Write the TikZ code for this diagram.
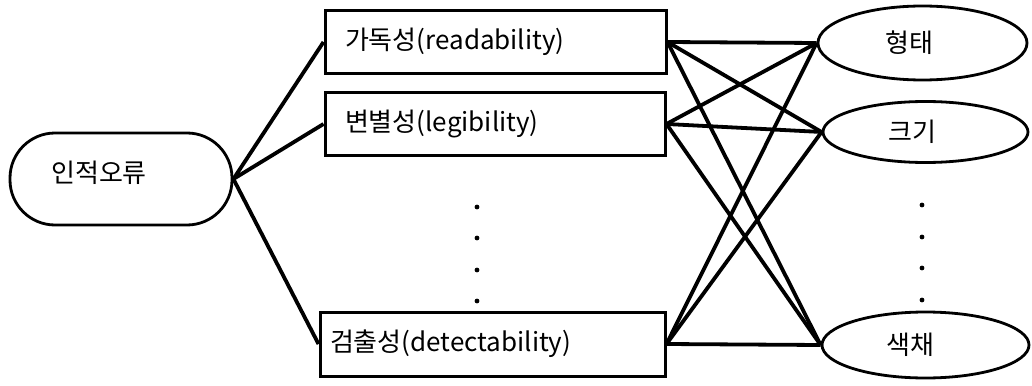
\documentclass[tikz,border=0pt]{standalone}
\usepackage{fontspec}
\setmainfont{Noto Sans CJK KR}
\usetikzlibrary{shapes.geometric}
\begin{document}
\begin{tikzpicture}[x=1pt,y=-1pt,
  every node/.style={font=\fontsize{26}{30}\selectfont},
  startbox/.style={draw,line width=2.8pt,rounded corners=45pt,
    minimum width=222pt,minimum height=92pt,inner sep=0pt},
  itembox/.style={draw,line width=3pt,inner ysep=0pt,align=left},
  factor/.style={draw,ellipse,line width=2.8pt,inner sep=0pt},
  link/.style={line width=3.8pt},
  dot/.style={fill=black}]
\useasboundingbox (0,0) rectangle (1032,385);

% source node
\node[startbox] (err) at (121,179) {\raisebox{14pt}{인적오류}\hspace*{44pt}};

% criteria boxes
\node[itembox,inner xsep=20pt,text width=301pt,minimum height=63pt] (r1) at (495.5,42) {가독성(readability)};
\node[itembox,inner xsep=20pt,text width=300pt,minimum height=62pt] (r2) at (495,124) {변별성(legibility)};
\node[itembox,inner xsep=10pt,text width=325pt,minimum height=64pt] (r3) at (492.5,344) {검출성(detectability)};

% display factors
\node[factor,minimum width=209pt,minimum height=74pt] (f1) at (922.5,43) {형태\hspace*{27pt}};
\node[factor,minimum width=205pt,minimum height=61pt] (f2) at (925.5,132) {크기\hspace*{27pt}};
\node[factor,minimum width=207pt,minimum height=66pt] (f3) at (925.5,345) {색채\hspace*{31pt}};

% ellipsis dots
\foreach \yy in {207,238,270,301} \fill[dot] (477,\yy) circle (2.4pt);
\foreach \yy in {205,237,268,300} \fill[dot] (922,\yy) circle (2.4pt);

% connectors
\foreach \r in {r1,r2,r3} \draw[link] (err.east) -- (\r.west);
\foreach \r in {r1,r2,r3}
  \foreach \f in {f1,f2,f3}
    \draw[link] (\r.east) -- (\f.west);
\end{tikzpicture}
\end{document}
